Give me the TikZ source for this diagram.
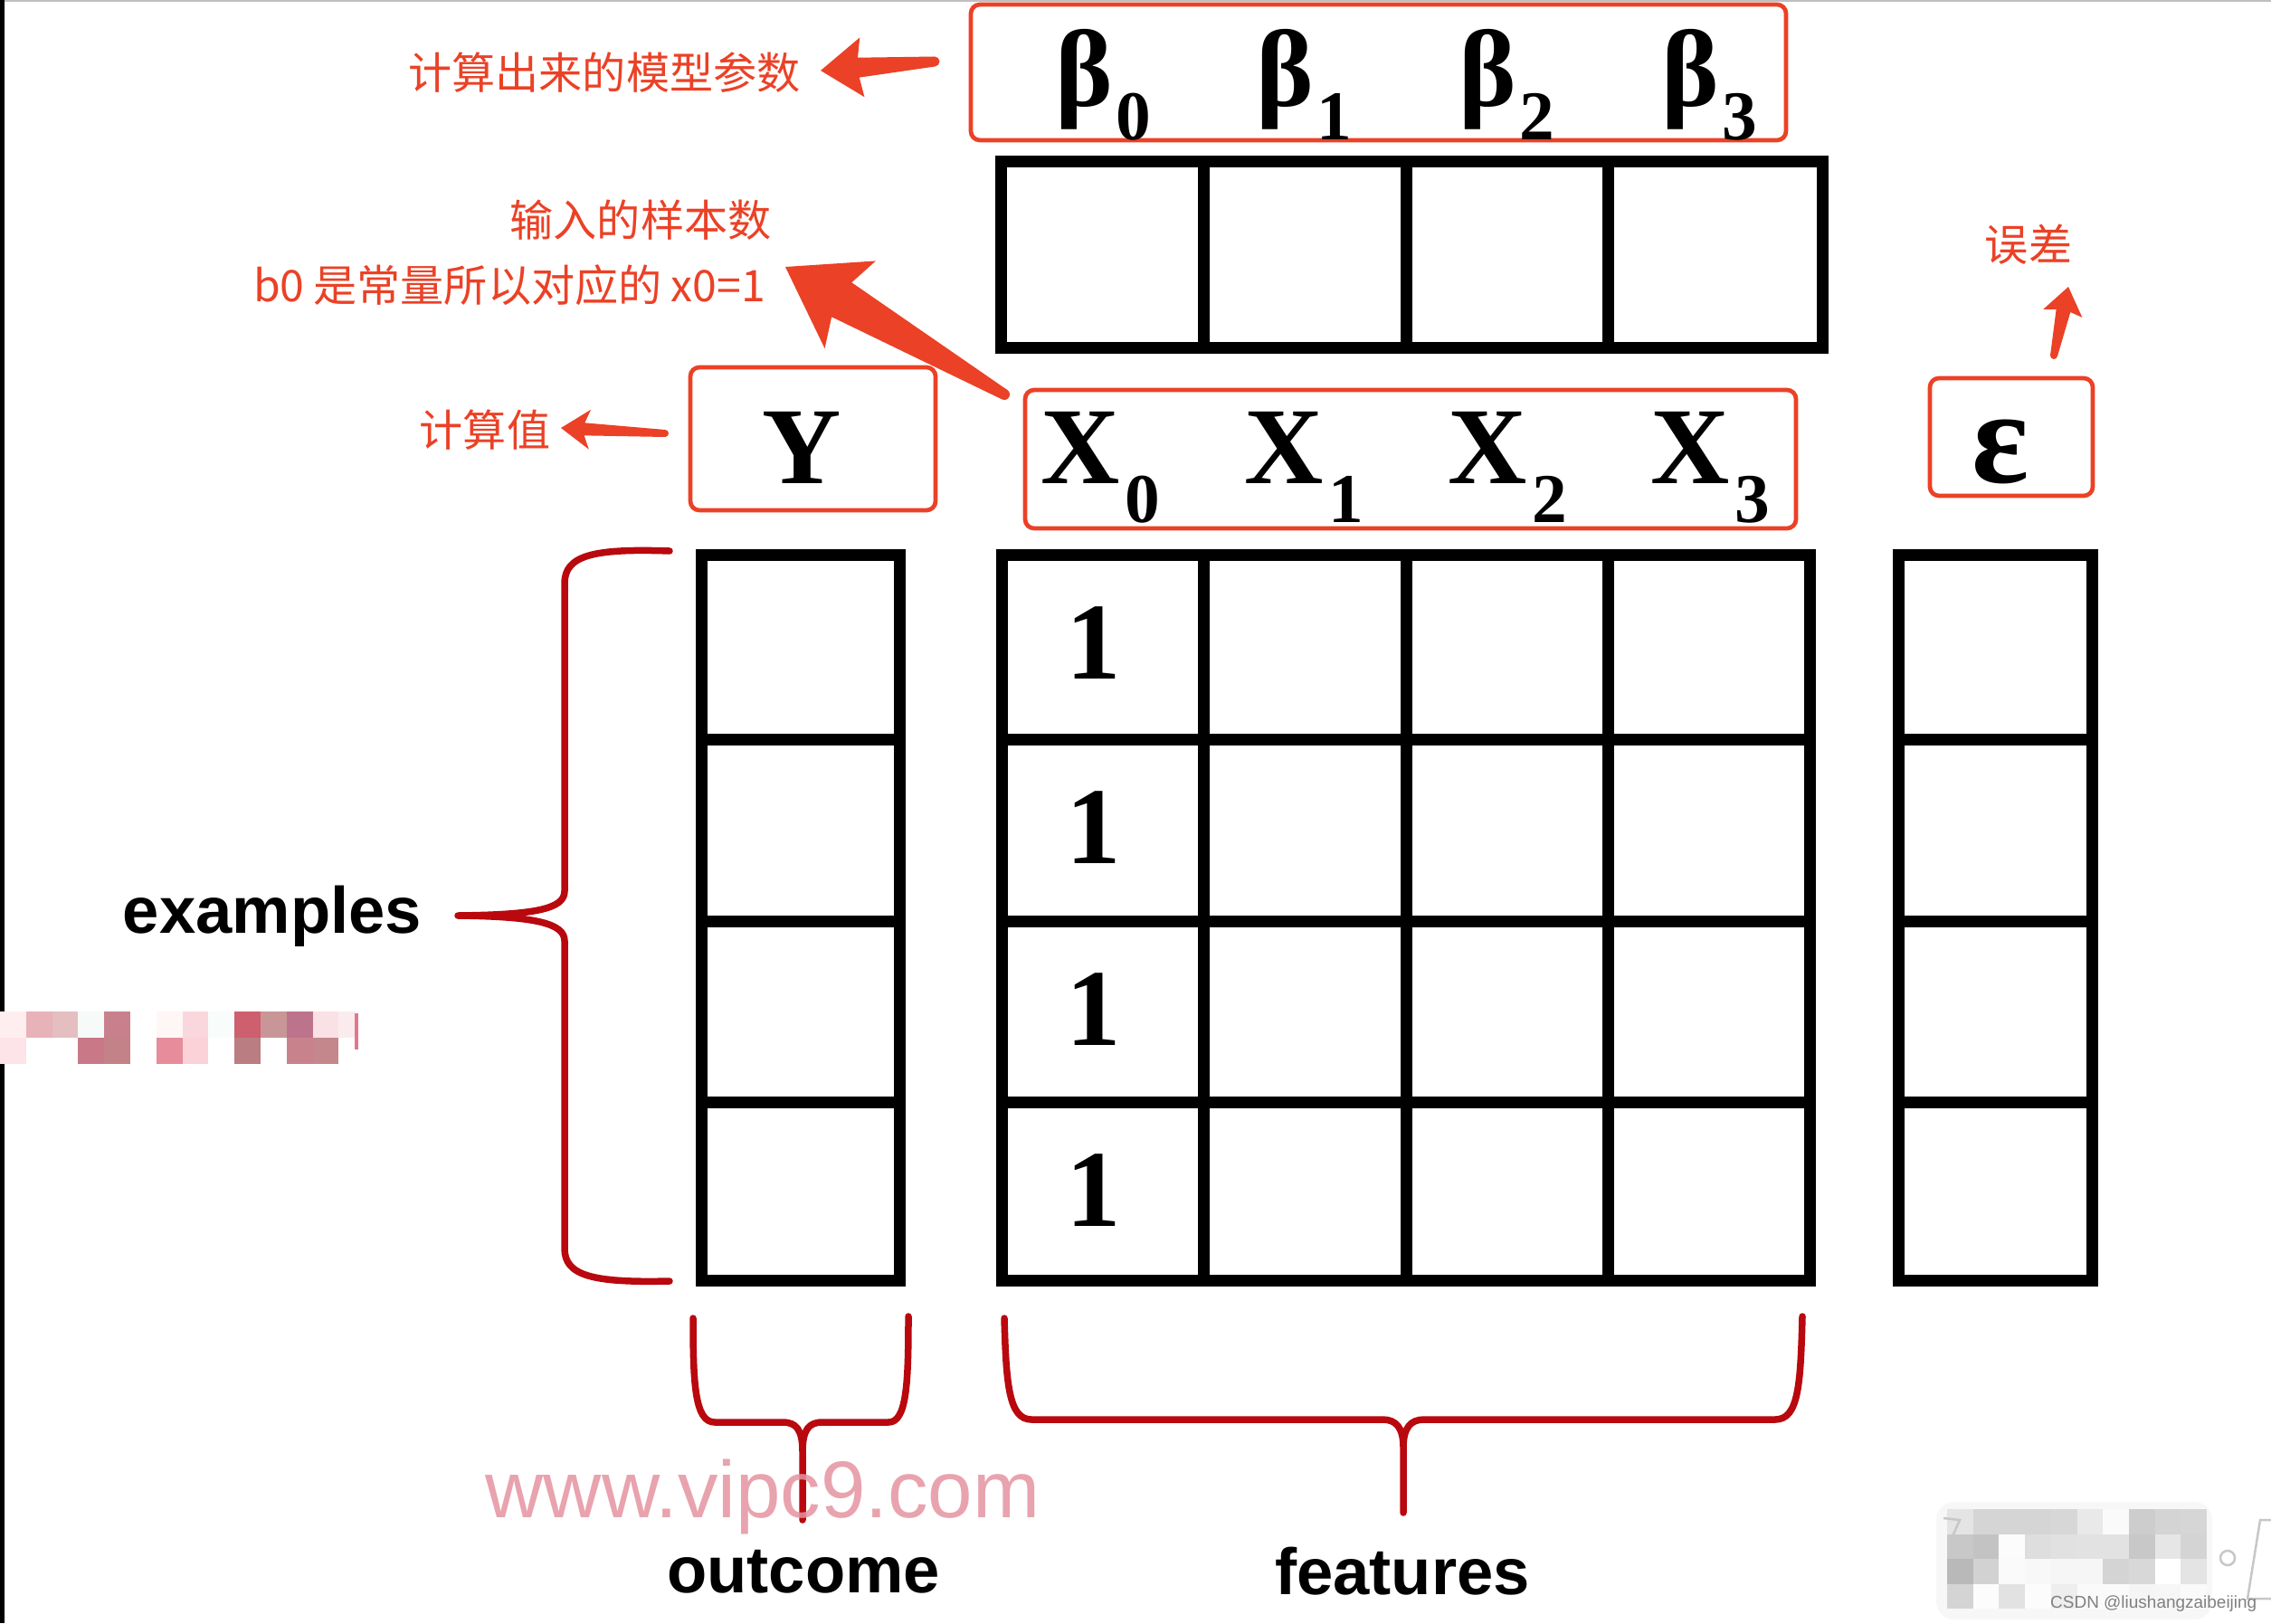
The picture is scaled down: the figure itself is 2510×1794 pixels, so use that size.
\documentclass[tikz,border=0pt]{standalone}
\usepackage{fontspec}
\setmainfont{Liberation Serif}
\newfontfamily\cjk{Noto Sans CJK SC}
\newfontfamily\lsans{Liberation Sans}
\usetikzlibrary{calc}
\definecolor{annred}{RGB}{235,65,38}
\definecolor{brred}{RGB}{185,8,14}
\definecolor{wmpink}{RGB}{228,148,160}
\newcommand\bigsym{\bfseries\fontsize{34.4}{40}\selectfont}
\newcommand\subsym{\bfseries\fontsize{22}{26}\selectfont}
% tapered arrow: #1 tail, #2 tip, #3 head length, #4 head half width, #5 notch back, #6 notch half width, #7 tail half width
\newcommand\taparrow[7]{%
  \path ($(#2)!#3!(#1)$) coordinate (tah) ($(#2)!#5!(#1)$) coordinate (tan);
  \fill[annred] (#2) -- ($(tah)!#4!90:(#2)$) -- ($(tan)!#6!90:(#2)$) -- ($(#1)!#7!90:(#2)$)
     -- ($(#1)!#7!-90:(#2)$) -- ($(tan)!#6!-90:(#2)$) -- ($(tah)!#4!-90:(#2)$) -- cycle;
  \fill[annred] (#1) circle (#7);
}
\newcommand\mpix[5]{\fill[fill={rgb,255:red,#3;green,#4;blue,#5}] ({#1*28.8},{1118+#2*29}) rectangle ++(28.8,29);}
\newcommand\gpix[3]{\fill[fill=black!#3] ({2152+#1*28.7},{1668+#2*27.5}) rectangle ++(28.7,27.5);}
\begin{document}
\begin{tikzpicture}[x=0.1mm,y=-0.1mm,
  redbox/.style={draw=annred, line width=0.47mm, rounded corners=1mm, inner sep=0pt},
  mline/.style={line width=1.3mm, line join=miter, line cap=rect},
  brace/.style={draw=brred, line width=0.75mm, line cap=round, line join=round},
  annlbl/.style={text=annred, font=\cjk\fontsize{13.7}{16}\selectfont, inner sep=0pt},
  englbl/.style={font=\lsans\bfseries\fontsize{20.6}{24}\selectfont, inner sep=0pt},
  sym/.style={inner sep=0pt, anchor=base west}]
\useasboundingbox (0,0) rectangle (2510,1794);
\fill[white] (0,0) rectangle (2510,1794);
\fill[black] (0,0) rectangle (5,1794);
\draw[black!25, line width=0.15mm] (5,1) -- (2510,1);

% pink mosaic (left)
\mpix{0}{0}{255}{238}{240}\mpix{1}{0}{232}{178}{185}\mpix{2}{0}{228}{190}{192}\mpix{3}{0}{246}{250}{248}
\mpix{4}{0}{200}{128}{140}\mpix{6}{0}{255}{246}{246}\mpix{7}{0}{250}{215}{220}\mpix{8}{0}{248}{252}{250}
\mpix{9}{0}{205}{95}{110}\mpix{10}{0}{200}{150}{150}\mpix{11}{0}{190}{115}{140}\mpix{12}{0}{250}{225}{230}
\fill[fill={rgb,255:red,250;green,236;blue,238}] (374.4,1118) rectangle (393,1147);
\mpix{0}{1}{252}{228}{232}\mpix{3}{1}{200}{120}{135}\mpix{4}{1}{195}{130}{135}\mpix{6}{1}{230}{140}{155}
\mpix{7}{1}{250}{210}{215}\mpix{9}{1}{185}{125}{130}\mpix{11}{1}{200}{130}{140}\mpix{12}{1}{195}{135}{140}
\draw[fill={rgb,255:red,225;green,120;blue,140}, draw=none] (392,1120) rectangle (396,1160);

% gray mosaic (bottom right)
\fill[black!3, rounded corners=2mm] (2140,1660) rectangle (2445,1790);
\gpix{0}{0}{10.6}\gpix{1}{0}{16.5}\gpix{2}{0}{16.5}\gpix{3}{0}{16.5}\gpix{4}{0}{15.7}\gpix{5}{0}{8.6}\gpix{6}{0}{2}\gpix{7}{0}{19.6}\gpix{8}{0}{16.9}\gpix{9}{0}{16.1}
\gpix{0}{1}{21.6}\gpix{1}{1}{23.5}\gpix{2}{1}{1.2}\gpix{3}{1}{12.9}\gpix{4}{1}{11.8}\gpix{5}{1}{11.4}\gpix{6}{1}{11.4}\gpix{7}{1}{21.6}\gpix{8}{1}{9.8}\gpix{9}{1}{16.9}
\gpix{0}{2}{27.5}\gpix{1}{2}{17.6}\gpix{2}{2}{2}\gpix{3}{2}{2.7}\gpix{4}{2}{3.5}\gpix{5}{2}{3.5}\gpix{6}{2}{16.9}\gpix{7}{2}{15.3}\gpix{8}{2}{0}\gpix{9}{2}{10.6}
\gpix{0}{3}{16.9}\gpix{1}{3}{1.2}\gpix{2}{3}{11.4}\gpix{3}{3}{1.2}\gpix{4}{3}{6.7}\gpix{5}{3}{2}\gpix{6}{3}{2}\gpix{7}{3}{3.9}\gpix{8}{3}{3.5}\gpix{9}{3}{2}
\draw[black!22, line width=0.25mm] (2462,1722) circle (8);
\draw[black!22, line width=0.25mm] (2510,1680) -- (2498,1680) -- (2484,1767) -- (2510,1767);
\draw[black!22, line width=0.25mm] (2148,1678) -- (2166,1680) -- (2158,1698);
\node[inner sep=0pt, anchor=east, text=black!50, font=\lsans\fontsize{5.4}{6}\selectfont] (csdn) at (2495,1773) {CSDN @liushangzaibeijing};

% red boxes
\node[redbox, minimum width=90.1mm, minimum height=15mm] (betabox) at (1523.5,80) {};
\node[redbox, minimum width=27.1mm, minimum height=15.8mm] (ybox) at (898.5,485) {};
\node[redbox, minimum width=85.2mm, minimum height=15.3mm] (xbox) at (1559,507.5) {};
\node[redbox, minimum width=18mm, minimum height=13mm] (ebox) at (2223,483) {};

% beta row
\draw[mline] (1106,179) rectangle (2014,384);
\foreach \x in {1330,1554,1777} \draw[mline] (\x,179) -- (\x,384);

% Y column
\draw[mline] (775,613) rectangle (994,1415);
\foreach \y in {817,1018,1218} \draw[mline] (775,\y) -- (994,\y);
% X matrix
\draw[mline] (1107,613) rectangle (2000,1415);
\foreach \x in {1330,1554,1777} \draw[mline] (\x,613) -- (\x,1415);
\foreach \y in {817,1018,1218} \draw[mline] (1107,\y) -- (2000,\y);
% epsilon column
\draw[mline] (2098,613) rectangle (2312,1415);
\foreach \y in {817,1018,1218} \draw[mline] (2098,\y) -- (2312,\y);

% symbols
\node[sym] (b0) at (1166,118) {\bigsym β\kern0.3mm\raisebox{-3.7mm}{\subsym 0}};
\node[sym] (b1) at (1388,118) {\bigsym β\kern0.3mm\raisebox{-3.7mm}{\subsym 1}};
\node[sym] (b2) at (1612,118) {\bigsym β\kern0.3mm\raisebox{-3.7mm}{\subsym 2}};
\node[sym] (b3) at (1836,118) {\bigsym β\kern0.3mm\raisebox{-3.7mm}{\subsym 3}};
\node[sym] (x0) at (1150,534) {\bigsym X\kern0.5mm\raisebox{-4.3mm}{\subsym 0}};
\node[sym] (x1) at (1375,534) {\bigsym X\kern0.5mm\raisebox{-4.3mm}{\subsym 1}};
\node[sym] (x2) at (1600,534) {\bigsym X\kern0.5mm\raisebox{-4.3mm}{\subsym 2}};
\node[sym] (x3) at (1824,534) {\bigsym X\kern0.5mm\raisebox{-4.3mm}{\subsym 3}};
\node[inner sep=0pt, anchor=base] (ylab) at (886,534) {\bigsym Y};
\node[inner sep=0pt, anchor=base] (elab) at (2211,533) {\bfseries\fontsize{42}{48}\selectfont ε};
\node[inner sep=0pt, anchor=base] (one1) at (1209,750) {\bigsym 1};
\node[inner sep=0pt, anchor=base] (one2) at (1209,954) {\bigsym 1};
\node[inner sep=0pt, anchor=base] (one3) at (1209,1155) {\bigsym 1};
\node[inner sep=0pt, anchor=base] (one4) at (1209,1355) {\bigsym 1};

% braces
\draw[brace] (740,609) .. controls (655,606) and (624,614) .. (624,645) -- (624,985)
  .. controls (624,1005) and (590,1011) .. (506,1012)
  .. controls (590,1013) and (624,1020) .. (624,1040) -- (624,1380)
  .. controls (624,1410) and (655,1418) .. (740,1416);
\draw[brace] (766,1457) .. controls (766,1530) and (768,1572) .. (790,1572) -- (865,1572)
  .. controls (880,1572) and (887,1580) .. (887,1605) -- (887,1680)
  (887,1605) .. controls (887,1580) and (894,1572) .. (909,1572) -- (982,1572)
  .. controls (1002,1572) and (1004,1530) .. (1004,1455);
\draw[brace] (1110,1457) .. controls (1112,1530) and (1115,1569) .. (1140,1569) -- (1528,1569)
  .. controls (1543,1569) and (1551,1578) .. (1551,1600) -- (1551,1672)
  (1551,1600) .. controls (1551,1578) and (1559,1569) .. (1574,1569) -- (1962,1569)
  .. controls (1988,1569) and (1990,1530) .. (1992,1455);

% english labels
\node[englbl] (examples) at (301,1013) {examples};
\node[englbl] (outcome) at (888,1737) {outcome};
\node[englbl] (features) at (1550,1737) {features};

% watermark
\node[inner sep=0pt, text=wmpink, opacity=0.85, font=\lsans\fontsize{25.3}{30}\selectfont] (wm) at (843,1654) {www.vipc9.com};

% annotation labels
\node[annlbl] (lblbeta) at (668,80) {计算出来的模型参数};
\node[annlbl] (lblin1) at (708,243) {输入的样本数};
\node[annlbl] (lblin2) at (563,315) {b0\kern1mm 是常量所以对应的\kern1mm x0=1};
\node[annlbl] (lblcalc) at (536,475) {计算值};
\node[annlbl] (lblerr) at (2242,270) {误差};

% arrows
\coordinate (a1tail) at (1033,68); \coordinate (a1tip) at (907,78);
\coordinate (a2tail) at (1110,436); \coordinate (a2tip) at (868,295);
\coordinate (a3tail) at (735,479); \coordinate (a3tip) at (620,473);
\coordinate (a4tail) at (2270,393); \coordinate (a4tip) at (2286,317);
\taparrow{a1tail}{a1tip}{4.6mm}{3.3mm}{4.2mm}{1.1mm}{0.55mm}
\taparrow{a2tail}{a2tip}{8.3mm}{5.6mm}{7.2mm}{2.2mm}{0.6mm}
\taparrow{a3tail}{a3tip}{3.2mm}{2.2mm}{2.6mm}{0.7mm}{0.4mm}
\taparrow{a4tail}{a4tip}{3.0mm}{2.2mm}{2.7mm}{0.8mm}{0.4mm}
\end{tikzpicture}
\end{document}
